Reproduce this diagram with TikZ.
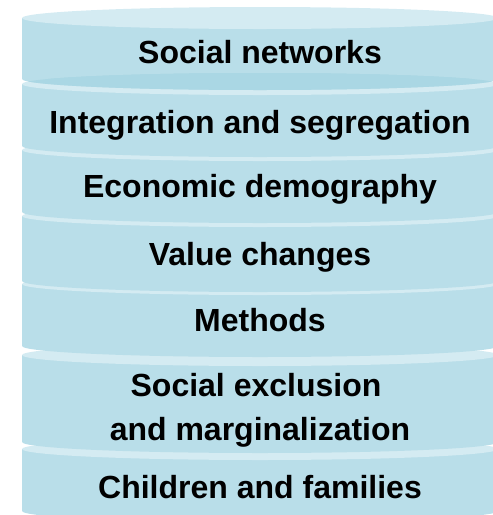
\documentclass[tikz,border=0pt]{standalone}
\usepackage{fontspec}
\setmainfont{Liberation Sans}
\definecolor{discbody}{HTML}{B9DEE9}
\definecolor{disclight}{HTML}{D4EBF2}
\definecolor{discdark}{HTML}{AAD7E4}

\begin{document}
\begin{tikzpicture}
[x=1pt,y=-1pt,
every node/.style={font=\bfseries\fontsize{32}{44}\selectfont,inner sep=0pt},
lab/.style={anchor=base,align=center},
discside/.style={fill=discbody,draw=none},
disctop/.style={fill=disclight,draw=none},
discshade/.style={fill=discdark,draw=none}]
\def \rx {238}
\def \ry {11}
\useasboundingbox (0,0) rectangle (493,515);
%%%%%%%%%%
%%%%% stack of discs, lowest first
%% children and families
\fill[discside] (22,449) rectangle (498,511);
\fill[discside] (260,511) ellipse [x radius=\rx,y radius=\ry];
\fill[disctop] (260,449) ellipse [x radius=\rx,y radius=\ry];
%% social exclusion
\fill[discside] (22,355) rectangle (498,442);
\fill[discside] (260,442) ellipse [x radius=\rx,y radius=\ry];
\fill[disctop] (260,355) ellipse [x radius=\rx,y radius=\ry];
%% methods
\fill[discside] (22,284) rectangle (498,346);
\fill[discside] (260,346) ellipse [x radius=\rx,y radius=\ry];
\fill[disctop] (260,284) ellipse [x radius=\rx,y radius=\ry];
%% value changes
\fill[discside] (22,216) rectangle (498,281);
\fill[discside] (260,281) ellipse [x radius=\rx,y radius=\ry];
\fill[disctop] (260,216) ellipse [x radius=\rx,y radius=\ry];
%% economic demography
\fill[discside] (22,150) rectangle (498,212);
\fill[discside] (260,212) ellipse [x radius=\rx,y radius=\ry];
\fill[disctop] (260,150) ellipse [x radius=\rx,y radius=\ry];
%% integration
\fill[discside] (22,84) rectangle (498,146);
\fill[discside] (260,146) ellipse [x radius=\rx,y radius=\ry];
\fill[disctop] (260,84) ellipse [x radius=\rx,y radius=\ry];
%% social networks
\fill[discside] (22,18) rectangle (498,79);
\fill[discside] (260,79) ellipse [x radius=\rx,y radius=\ry];
\fill[disctop] (260,18) ellipse [x radius=\rx,y radius=\ry];
\begin{scope}
\clip (260,84) ellipse [x radius=\rx,y radius=\ry];
\fill[discshade] (22,18) rectangle (498,79);
\fill[discshade] (260,79) ellipse [x radius=\rx,y radius=\ry];
\end{scope}
%% labels
\node (net) [lab] at (260,63) {Social networks};
\node (seg) [lab] at (260,133) {Integration and segregation};
\node (eco) [lab] at (260,197) {Economic demography};
\node (val) [lab] at (260,265) {Value changes};
\node (met) [lab] at (260,331) {Methods};
\node (exc) [lab] at (256,396) {Social exclusion};
\node (mar) [lab] at (260,440) {and marginalization};
\node (chi) [lab] at (260,498) {Children and families};
\end{tikzpicture}
\end{document}
